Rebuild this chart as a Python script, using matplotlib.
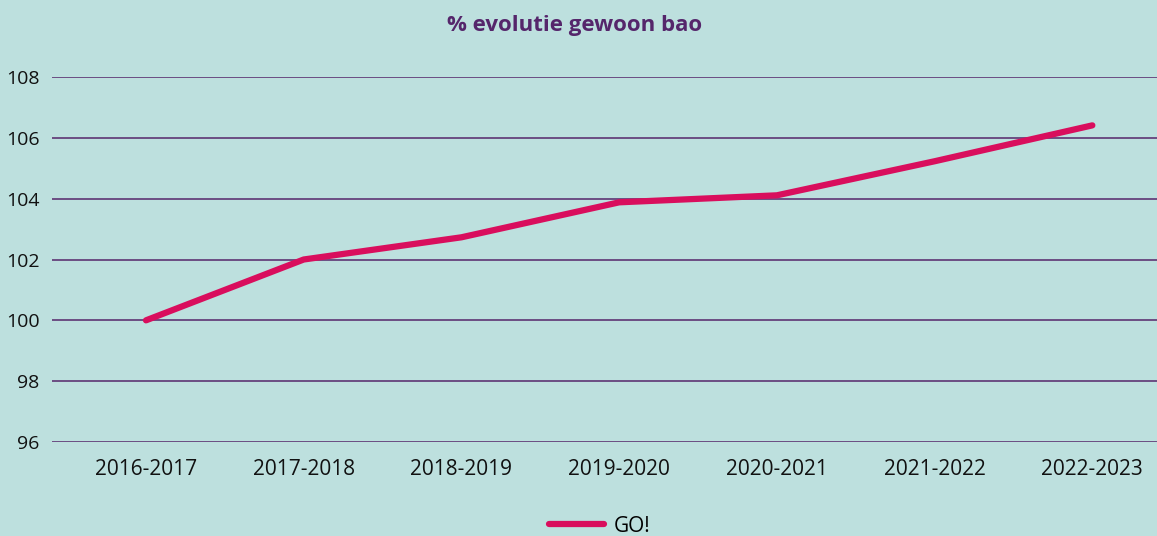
import matplotlib.pyplot as plt
from matplotlib.lines import Line2D

# data
years = ["2016-2017", "2017-2018", "2018-2019", "2019-2020",
         "2020-2021", "2021-2022", "2022-2023"]
go_values = [100.0, 102.0, 102.73, 103.88, 104.11, 105.23, 106.41]
y_ticks = [96, 98, 100, 102, 104, 106, 108]

bg = "#bde0de"
purple = "#55266b"
pink = "#d90e5d"

plt.rcParams["font.family"] = ["Open Sans", "DejaVu Sans"]

fig = plt.figure(figsize=(11.57, 5.36), dpi=100, facecolor=bg)
ax = fig.add_axes([52 / 1157, 1 - 442 / 536, 1105 / 1157, (442 - 77) / 536])
ax.set_facecolor(bg)

x = list(range(len(years)))
ax.plot(x, go_values, color=pink, lw=4.5, solid_capstyle="round",
        solid_joinstyle="round", zorder=3)

ax.set_ylim(96, 108)
ax.set_yticks(y_ticks)
ax.set_xlim(-0.596, 6.41)
ax.set_xticks(x)
ax.set_xticklabels(years)
ax.yaxis.grid(True, color=purple, lw=1.1)
ax.set_axisbelow(True)
for s in ax.spines.values():
    s.set_visible(False)
ax.tick_params(axis="both", length=0, colors="#111111")
ax.tick_params(axis="y", pad=9, labelsize=14)
ax.tick_params(axis="x", pad=12, labelsize=15)

fig.text(575 / 1157, 1 - 26 / 536, "% evolutie gewoon bao", ha="center",
         va="center", fontsize=16, fontweight="bold", color=purple)

handle = Line2D([0], [0], color=pink, lw=4.5, solid_capstyle="round")
fig.legend([handle], ["GO!"], loc="center", bbox_to_anchor=(600 / 1157, 1 - 526 / 536),
           frameon=False, fontsize=15, handlelength=2.6, handletextpad=0.5)

fig.savefig("out.png", dpi=100, facecolor=bg)
